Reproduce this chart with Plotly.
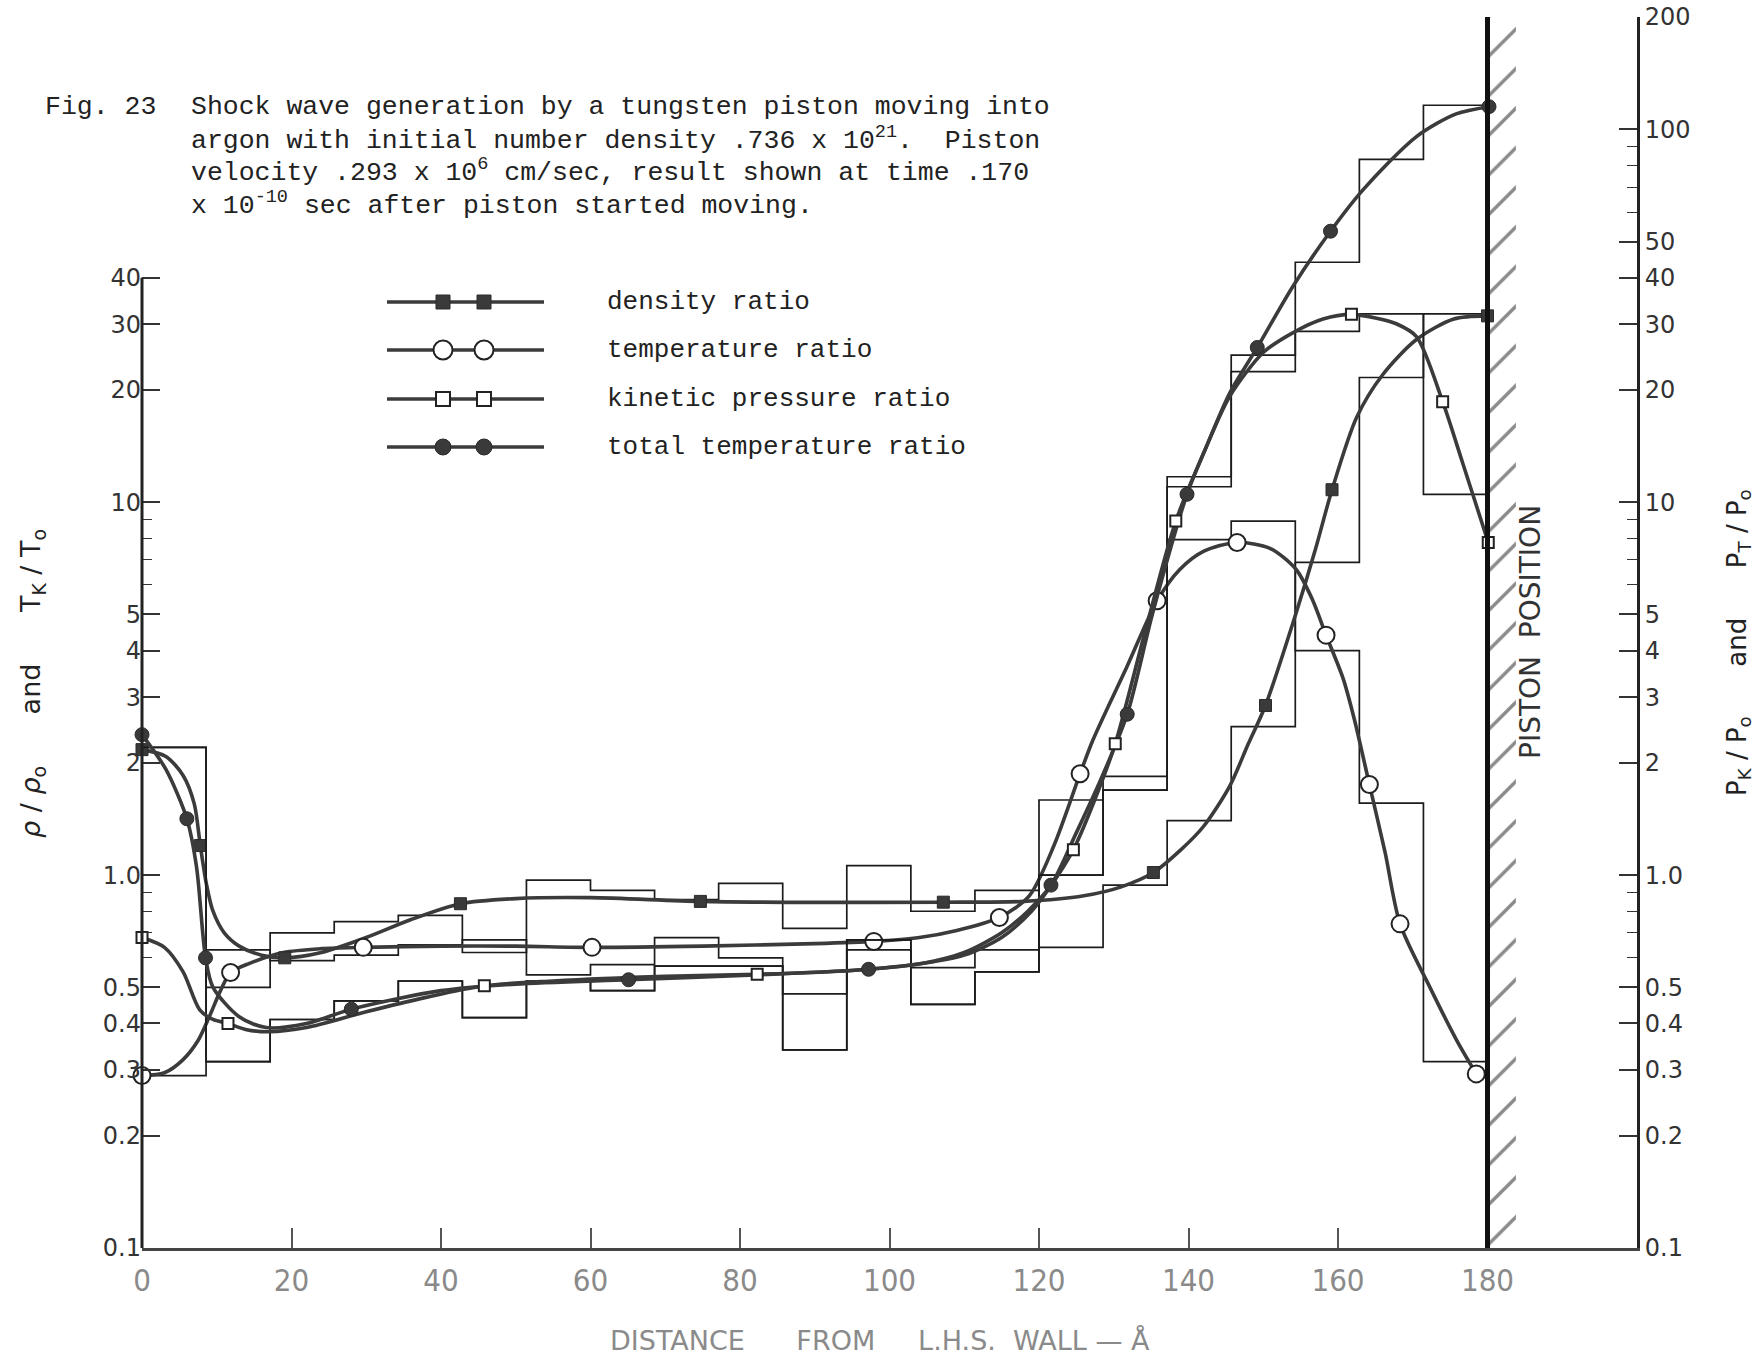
import math
import plotly.graph_objects as go

# ---------------- data ----------------
X_END = 180.0            # piston position, Angstrom
N_CELLS = 21             # histogram cells between L.H.S. wall and piston

x_tick_vals = [0, 20, 40, 60, 80, 100, 120, 140, 160, 180]
left_tick_vals = [0.1, 0.2, 0.3, 0.4, 0.5, 1, 2, 3, 4, 5, 10, 20, 30, 40]
left_tick_text = ["0.1", "0.2", "0.3", "0.4", "0.5", "1.0", "2", "3", "4", "5", "10", "20", "30", "40"]
right_tick_vals = [0.1, 0.2, 0.3, 0.4, 0.5, 1, 2, 3, 4, 5, 10, 20, 30, 40, 50, 100, 200]
right_tick_text = ["0.1", "0.2", "0.3", "0.4", "0.5", "1.0", "2", "3", "4", "5", "10", "20", "30", "40", "50", "100", "200"]
left_minor_vals = [0.6, 0.7, 0.8, 0.9, 6, 7, 8, 9]
right_minor_vals = [0.6, 0.7, 0.8, 0.9, 6, 7, 8, 9, 60, 70, 80, 90]

# cell values (thin step histograms)
rho_cells = [2.2, 0.50, 0.70, 0.75, 0.78, 0.62, 0.97, 0.91, 0.86, 0.95, 0.72,
             1.06, 0.80, 0.91, 0.64, 0.94, 1.40, 2.5, 6.9, 21.6, 32.0]
temp_cells = [0.29, 0.63, 0.59, 0.61, 0.65, 0.67, 0.54, 0.575, 0.68, 0.60, 0.48,
              0.63, 0.565, 0.63, 1.59, 1.84, 7.94, 8.9, 4.0, 1.56, 0.316]
pk_cells = [None, 0.316, 0.41, 0.46, 0.52, 0.415, 0.52, 0.49, 0.57, 0.57, 0.34,
            0.67, 0.45, 0.55, 1.0, 1.69, 11.0, 22.4, 28.7, 32.0, 10.5]
pt_cells = [2.2, 0.316, 0.41, 0.46, 0.52, 0.415, 0.52, 0.49, 0.57, 0.57, 0.34,
            0.67, 0.45, 0.55, 1.0, 1.69, 11.7, 24.8, 44.0, 83.0, 116.0]

# smooth curves
rho_x = [0, 3.2, 5.5, 7.0, 7.8, 8.6, 9.5, 11, 13, 16, 19.1, 24, 30, 36, 42.6, 50, 60, 74.7,
         90, 107.2, 118, 126, 131, 135.3, 139, 142, 145.5, 148, 150.3, 154.4, 157, 159.2,
         162.5, 166, 170.5, 175.5, 180]
rho_y = [2.17, 2.08, 1.85, 1.55, 1.20, 0.95, 0.80, 0.70, 0.645, 0.61, 0.60, 0.62, 0.68, 0.76,
         0.838, 0.865, 0.87, 0.85, 0.845, 0.846, 0.85, 0.88, 0.93, 1.016, 1.17, 1.35, 1.73,
         2.25, 2.85, 5.05, 7.5, 10.8, 16.9, 22.0, 27.3, 31.0, 31.6]
rho_mx = [0, 7.8, 19.1, 42.6, 74.7, 107.2, 135.3, 150.3, 159.2, 180]
rho_my = [2.17, 1.20, 0.60, 0.838, 0.85, 0.846, 1.016, 2.85, 10.8, 31.6]

temp_x = [0, 3, 5.5, 7.5, 9.0, 10.5, 11.85, 14.4, 18.9, 24, 29.6, 40, 50, 60.2, 75, 90,
          97.9, 104, 109, 114.7, 118.7, 122, 125.5, 127.2, 131.7, 135.8, 138.8, 142, 146.5,
          150.9, 154.4, 156.6, 158.4, 160.7, 162.2, 164.2, 166.3, 168.3, 172.3, 175.9, 178.5]
temp_y = [0.29, 0.295, 0.32, 0.36, 0.417, 0.49, 0.548, 0.58, 0.62, 0.635, 0.64, 0.645, 0.645,
          0.64, 0.645, 0.655, 0.664, 0.68, 0.71, 0.77, 0.88, 1.2, 1.87, 2.3, 3.6, 5.44, 6.59,
          7.38, 7.8, 7.52, 6.6, 5.47, 4.40, 3.36, 2.61, 1.75, 1.15, 0.74, 0.50, 0.36, 0.293]
temp_mx = [0, 11.85, 29.6, 60.2, 97.9, 114.7, 125.5, 135.8, 146.5, 158.4, 164.2, 168.3, 178.5]
temp_my = [0.29, 0.548, 0.64, 0.64, 0.664, 0.77, 1.87, 5.44, 7.8, 4.40, 1.75, 0.74, 0.293]

pk_x = [0, 3, 5.5, 7.7, 9.5, 11.5, 14, 17, 22, 30, 38, 45.8, 55, 70, 82.3, 95, 104.5, 110,
        115, 119, 121.5, 124.6, 127.5, 130.2, 134.2, 138.3, 142, 145.5, 150, 154, 158, 161.8,
        165, 167.8, 170.5, 174, 176.7, 180.1]
pk_y = [0.68, 0.64, 0.55, 0.436, 0.41, 0.40, 0.385, 0.38, 0.39, 0.43, 0.47, 0.505, 0.52, 0.535,
        0.542, 0.555, 0.58, 0.61, 0.68, 0.80, 0.93, 1.17, 1.6, 2.25, 4.5, 8.9, 13.5, 19.2, 25.2,
        28.5, 31.0, 31.9, 31.2, 30.1, 27.8, 18.6, 12.7, 7.8]
pk_mx = [0, 11.5, 45.8, 82.3, 124.6, 130.2, 138.3, 161.8, 174, 180.1]
pk_my = [0.68, 0.40, 0.505, 0.542, 1.17, 2.25, 8.9, 31.9, 18.6, 7.8]

pt_x = [0, 3.2, 6.0, 7.3, 8.5, 9.5, 13, 16.6, 22, 28, 40, 50, 65.1, 82, 97.2, 104.5, 110, 115,
        118.5, 121.6, 125, 128.5, 131.8, 135.2, 139.8, 142.4, 145.5, 149.2, 154, 159, 163.4,
        170.5, 175.8, 180.2]
pt_y = [2.38, 1.92, 1.416, 1.05, 0.60, 0.50, 0.417, 0.39, 0.40, 0.437, 0.49, 0.51, 0.524, 0.54,
        0.559, 0.58, 0.62, 0.70, 0.80, 0.94, 1.3, 1.85, 2.7, 5.04, 10.5, 14.1, 19.6, 26.0, 38.0,
        53.3, 69.0, 95.6, 110.0, 115.0]
pt_mx = [0, 6.0, 8.5, 28, 65.1, 97.2, 121.6, 131.8, 139.8, 149.2, 159, 180.2]
pt_my = [2.38, 1.416, 0.60, 0.437, 0.524, 0.559, 0.94, 2.7, 10.5, 26.0, 53.3, 115.0]

legend_labels = ["density ratio", "temperature ratio", "kinetic pressure ratio",
                 "total temperature ratio"]

# ---------------- layout geometry ----------------
W, H = 1758, 1356
ML, MR, MT, MB = 142, 121, 17, 108
PW, PH = W - ML - MR, H - MT - MB
Y_LO, Y_HI = 0.1, 200.0


def fx(px):
    return (px - ML) / PW


def fy(py):
    return (H - MB - py) / PH


def yfrac(v):
    return (math.log10(v) - math.log10(Y_LO)) / (math.log10(Y_HI) - math.log10(Y_LO))


CURVE_C = "#3b3b3b"
HIST_C = "#1c1c1c"
MONO = "Liberation Mono, DejaVu Sans Mono, monospace"
SANS = "DejaVu Sans, Verdana, sans-serif"
NARROW = "Liberation Sans Narrow, DejaVu Sans Condensed, Roboto Condensed, sans-serif"
NB = "\u00a0"

cell_w = X_END / N_CELLS
edges = [i * cell_w for i in range(N_CELLS + 1)]

fig = go.Figure()


def add_hist(vals, yaxis):
    fig.add_trace(go.Scatter(
        x=edges, y=list(vals) + [vals[-1]], mode="lines", yaxis=yaxis,
        line=dict(shape="hv", color=HIST_C, width=1.7),
        hoverinfo="skip", showlegend=False, connectgaps=False))


add_hist(rho_cells, "y")
add_hist(temp_cells, "y")
add_hist(pk_cells, "y2")
add_hist(pt_cells, "y2")

styles = {
    "rho": dict(symbol="square", size=12, color="#3a3a3a", line=dict(color="#2a2a2a", width=1)),
    "temp": dict(symbol="circle", size=17, color="white", line=dict(color="#222", width=2)),
    "pk": dict(symbol="square", size=11, color="white", line=dict(color="#222", width=2)),
    "pt": dict(symbol="circle", size=14, color="#3a3a3a", line=dict(color="#2a2a2a", width=1)),
}

series = [
    ("rho", rho_x, rho_y, rho_mx, rho_my, "y"),
    ("temp", temp_x, temp_y, temp_mx, temp_my, "y"),
    ("pk", pk_x, pk_y, pk_mx, pk_my, "y2"),
    ("pt", pt_x, pt_y, pt_mx, pt_my, "y2"),
]
for key, cx, cy, mx, my, ya in series:
    fig.add_trace(go.Scatter(
        x=cx, y=cy, mode="lines", yaxis=ya,
        line=dict(shape="spline", smoothing=0.8, color=CURVE_C, width=3.6),
        hoverinfo="skip", showlegend=False))
for key, cx, cy, mx, my, ya in series:
    fig.add_trace(go.Scatter(
        x=mx, y=my, mode="markers", yaxis=ya, marker=styles[key],
        cliponaxis=False, hoverinfo="skip", showlegend=False))

# piston hatching
HATCH_W = 3.8
fig.add_trace(go.Scatter(
    x=[X_END, X_END + HATCH_W, X_END + HATCH_W, X_END, X_END],
    y=[Y_LO, Y_LO, Y_HI, Y_HI, Y_LO], mode="lines", fill="toself",
    fillcolor="rgba(0,0,0,0)", line=dict(width=0),
    fillpattern=dict(shape="/", size=28, solidity=0.12, fgcolor="#151515",
                     bgcolor="rgba(255,255,255,0)"),
    hoverinfo="skip", showlegend=False))

# custom legend (two markers per sample, like the original)
LEG_ROWS = [302, 350, 399, 447]
LEG_LINE = (387, 544)
LEG_MARKS = (443, 484)
LEG_TEXT_X = 605
leg_styles = [
    dict(symbol="square", size=14, color="#3a3a3a", line=dict(color="#2a2a2a", width=1)),
    dict(symbol="circle", size=19, color="white", line=dict(color="#222", width=2)),
    dict(symbol="square", size=14, color="white", line=dict(color="#222", width=2)),
    dict(symbol="circle", size=16, color="#3a3a3a", line=dict(color="#2a2a2a", width=1)),
]
for row, lab, st in zip(LEG_ROWS, legend_labels, leg_styles):
    fig.add_trace(go.Scatter(
        x=[fx(LEG_LINE[0]), fx(LEG_LINE[1])], y=[fy(row), fy(row)], mode="lines",
        xaxis="x3", yaxis="y3", line=dict(color=CURVE_C, width=3.4),
        hoverinfo="skip", showlegend=False))
    fig.add_trace(go.Scatter(
        x=[fx(LEG_MARKS[0]), fx(LEG_MARKS[1])], y=[fy(row), fy(row)], mode="markers",
        xaxis="x3", yaxis="y3", marker=st, hoverinfo="skip", showlegend=False))
    fig.add_annotation(x=fx(LEG_TEXT_X), y=fy(row), xref="paper", yref="paper", text=lab,
                       showarrow=False, xanchor="left", yanchor="middle",
                       font=dict(family=MONO, size=26, color="#222"))

# title block (typewriter)
title_lines = [
    "Shock wave generation by a tungsten piston moving into",
    "argon with initial number density .736 x 10<sup>21</sup>." + NB * 2 + "Piston",
    "velocity .293 x 10<sup>6</sup> cm/sec, result shown at time .170",
    "x 10<sup>-10</sup> sec after piston started moving.",
]
title_y = [107, 139, 171, 204]
fig.add_annotation(x=fx(43), y=fy(title_y[0]), xref="paper", yref="paper", text="Fig." + NB + "23",
                   showarrow=False, xanchor="left", yanchor="middle",
                   font=dict(family=MONO, size=26.5, color="#222"))
for t, yy in zip(title_lines, title_y):
    fig.add_annotation(x=fx(189), y=fy(yy), xref="paper", yref="paper", text=t,
                       showarrow=False, xanchor="left", yanchor="middle",
                       font=dict(family=MONO, size=26.5, color="#222"))

# axis titles
fig.add_annotation(
    x=fx(33), y=fy(684), xref="paper", yref="paper", textangle=-90, showarrow=False,
    xanchor="center", yanchor="middle",
    text="<i>ρ</i> / <i>ρ</i><sub>o</sub>" + NB * 6 + "and" + NB * 6 + "T<sub>K</sub> / T<sub>o</sub>",
    font=dict(family=SANS, size=27, color="#222"))
fig.add_annotation(
    x=fx(1738), y=fy(643), xref="paper", yref="paper", textangle=-90, showarrow=False,
    xanchor="center", yanchor="middle",
    text="P<sub>K</sub> / P<sub>o</sub>" + NB * 6 + "and" + NB * 6 + "P<sub>T</sub> / P<sub>o</sub>",
    font=dict(family=SANS, size=26, color="#222"))
fig.add_annotation(
    x=fx(1531), y=fy(632), xref="paper", yref="paper", textangle=-90, showarrow=False,
    xanchor="center", yanchor="middle",
    text="PISTON" + NB * 2 + "POSITION", font=dict(family=SANS, size=28, color="#333"))
fig.add_annotation(
    x=fx(880), y=fy(1340), xref="paper", yref="paper", showarrow=False,
    xanchor="center", yanchor="middle",
    text="DISTANCE" + NB * 6 + "FROM" + NB * 5 + "L.H.S." + NB * 2 + "WALL" + NB + "—" + NB + "Å",
    font=dict(family=SANS, size=27, color="#8a8a8a"))

# left axis line only up to 40, piston wall
fig.add_shape(type="line", xref="paper", yref="paper", x0=0, x1=0, y0=0, y1=yfrac(40),
              line=dict(color="#222", width=3))
fig.add_shape(type="line", xref="x", yref="paper", x0=X_END, x1=X_END, y0=0, y1=1.0,
              line=dict(color="#111", width=5))

log_range = [math.log10(Y_LO), math.log10(Y_HI) + 1e-4]
fig.update_layout(
    width=W, height=H, autosize=False,
    margin=dict(l=ML, r=MR, t=MT, b=MB, pad=0, autoexpand=False),
    paper_bgcolor="white", plot_bgcolor="white", showlegend=False, hovermode=False,
    xaxis=dict(range=[0, 200], showgrid=False, zeroline=False, showline=True,
               automargin=False,
               linecolor="#444", linewidth=2.5, ticks="inside", ticklen=20, tickwidth=1.6,
               tickcolor="#555", tickvals=x_tick_vals,
               ticktext=[str(v) for v in x_tick_vals],
               tickfont=dict(family=NARROW, size=31, color="#8a8a8a"),
               ticklabelstandoff=3),
    yaxis=dict(type="log", range=log_range, showgrid=False, zeroline=False, showline=False,
               automargin=False,
               ticks="inside", ticklen=18, tickwidth=1.6, tickcolor="#333",
               tickvals=left_tick_vals, ticktext=left_tick_text,
               tickfont=dict(family=SANS, size=24, color="#333"),
               minor=dict(tickvals=left_minor_vals, ticks="inside", ticklen=10,
                          tickwidth=1.4, tickcolor="#333", showgrid=False)),
    yaxis2=dict(type="log", range=log_range, overlaying="y", side="right", anchor="x",
                automargin=False,
                showgrid=False, zeroline=False, showline=True, linecolor="#222",
                linewidth=3, ticks="inside", ticklen=18, tickwidth=1.6, tickcolor="#333",
                tickvals=right_tick_vals, ticktext=right_tick_text,
                tickfont=dict(family=SANS, size=24, color="#333"),
                minor=dict(tickvals=right_minor_vals, ticks="inside", ticklen=10,
                           tickwidth=1.4, tickcolor="#333", showgrid=False)),
    xaxis3=dict(domain=[0, 1], range=[0, 1], visible=False, anchor="y3", overlaying="x"),
    yaxis3=dict(domain=[0, 1], range=[0, 1], visible=False, anchor="x3", overlaying="y"),
)

fig.write_html("out.html")
